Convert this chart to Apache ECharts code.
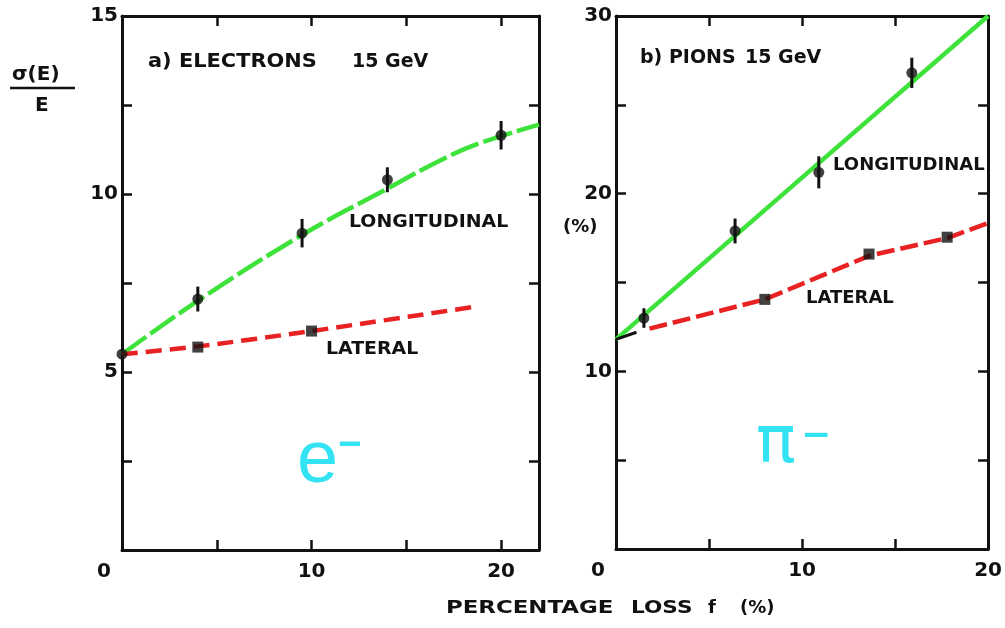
<!DOCTYPE html>
<html>
<head>
<meta charset="utf-8">
<script src="https://cdn.jsdelivr.net/npm/echarts@6/dist/echarts.min.js"></script>
<style>
  html, body { margin: 0; padding: 0; background: #fff; }
  #main { width: 1005px; height: 628px; }
</style>
</head>
<body>
<div id="main"></div>
<script>
// a) electrons
const eLongX = [0, 4, 9.5, 14, 20]
const eLongY = [5.5, 7.05, 8.9, 10.4, 11.65]
const eLongErr = [0, 0.35, 0.4, 0.35, 0.4]
const eLatX = [4, 10]
const eLatY = [5.7, 6.15]
const eLongFitX = [0, 4, 9.5, 14, 17, 19, 22]
const eLongFitY = [5.5, 7.0, 8.85, 10.15, 11.0, 11.45, 11.95]
const eLatFitX = [0, 4, 10, 18.8]
const eLatFitY = [5.5, 5.72, 6.15, 6.85]

// b) pions
const piLongX = [1.5, 6.4, 10.9, 15.9]
const piLongY = [13.0, 17.9, 21.2, 26.8]
const piLongErr = [0.55, 0.7, 0.9, 0.85]
const piLatX = [8, 13.6, 17.8]
const piLatY = [14.05, 16.6, 17.55]
const piLongFitX = [0, 10, 20]
const piLongFitY = [11.8, 20.9, 30]
const piLatFitX = [1.8, 8, 13.6, 17.8, 20]
const piLatFitY = [12.4, 14.05, 16.5, 17.5, 18.35]
const piStartX = [0, 1.1]
const piStartY = [11.8, 12.2]

// tick labels
const xTickLabels = [0, 10, 20]
const eTickLabels = [5, 10, 15]
const piTickLabels = [10, 20, 30]

const zip = (xs, ys, es) => xs.map((x, i) => es ? [x, ys[i], es[i]] : [x, ys[i]])

const FONT = 'DejaVu Sans'
const INK = '#111'

const axisLine = { show: true, onZero: false, lineStyle: { color: INK, width: 3 } }
const axisTick = { show: true, inside: true, length: 10, lineStyle: { color: INK, width: 2.5 } }

function xAxis(grid, max, pos, labels) {
    return {
        type: 'value', gridIndex: grid, min: 0, max: max, interval: 5, position: pos,
        axisLine: axisLine, axisTick: axisTick, splitLine: { show: false },
        axisLabel: {
            show: !!labels, margin: 12, color: INK, fontFamily: FONT, fontSize: 20, fontWeight: 'bold',
            formatter: v => !labels || labels.indexOf(v) < 0 ? '' : (v === 0 ? '{z|0}' : String(v)),
            rich: { z: { padding: [0, 36, 0, 0], fontFamily: FONT, fontSize: 20, fontWeight: 'bold', color: INK } }
        }
    }
}

function yAxis(grid, max, interval, pos, labels) {
    return {
        type: 'value', gridIndex: grid, min: 0, max: max, interval: interval, position: pos,
        axisLine: axisLine, axisTick: axisTick, splitLine: { show: false },
        axisLabel: {
            show: !!labels, margin: 4, color: INK, fontFamily: FONT, fontSize: 20, fontWeight: 'bold',
            formatter: v => labels && labels.indexOf(v) >= 0 ? String(v) : ''
        }
    }
}

function errorBars(xi, yi, data) {
    return {
        type: 'custom', xAxisIndex: xi, yAxisIndex: yi, data: data, z: 5,
        renderItem: (params, api) => {
            const x = api.value(0), y = api.value(1), e = api.value(2)
            const a = api.coord([x, y + e]), b = api.coord([x, y - e])
            return { type: 'line', shape: { x1: a[0], y1: a[1], x2: b[0], y2: b[1] }, style: { stroke: INK, lineWidth: 3 } }
        }
    }
}

function fitLine(xi, yi, data, color, dash, smooth) {
    return {
        type: 'line', xAxisIndex: xi, yAxisIndex: yi, data: data, smooth: smooth, showSymbol: false, z: 2,
        lineStyle: { color: color, width: 4.5, type: dash }
    }
}

function points(xi, yi, data, symbol, size) {
    return {
        type: 'scatter', xAxisIndex: xi, yAxisIndex: yi, data: data, symbol: symbol, symbolSize: size, z: 6,
        itemStyle: { color: INK }
    }
}

function text(x, y, str, size, sx) {
    return {
        type: 'text', x: x, y: y, scaleX: sx || 1,
        style: { text: str, fill: INK, font: 'bold ' + size + 'px "' + FONT + '"', verticalAlign: 'middle' }
    }
}

function cyan(x, y, str, font) {
    return {
        type: 'text', x: x, y: y,
        style: { text: str, fill: '#33e3f3', font: font, verticalAlign: 'middle' }
    }
}

const myChart = echarts.init(document.getElementById('main'))

const option = {
    backgroundColor: '#fff',
    animation: false,
    grid: [
        { left: 122, top: 16, width: 417, height: 534 },
        { left: 616, top: 16, width: 376, height: 533 }
    ],
    xAxis: [
        xAxis(0, 22, 'bottom', xTickLabels),
        xAxis(0, 22, 'top', null),
        xAxis(1, 20, 'bottom', xTickLabels),
        xAxis(1, 20, 'top', null)
    ],
    yAxis: [
        yAxis(0, 15, 2.5, 'left', eTickLabels),
        yAxis(0, 15, 2.5, 'right', null),
        yAxis(1, 30, 5, 'left', piTickLabels),
        yAxis(1, 30, 5, 'right', null)
    ],
    series: [
        fitLine(0, 0, zip(eLongFitX, eLongFitY), '#3de23a', [30, 5], 0.4),
        fitLine(0, 0, zip(eLatFitX, eLatFitY), '#e82222', [16, 8], 0.3),
        errorBars(0, 0, zip(eLongX, eLongY, eLongErr)),
        points(0, 0, zip(eLongX, eLongY), 'circle', 11),
        points(0, 0, zip(eLatX, eLatY), 'rect', 11),

        fitLine(2, 2, zip(piLongFitX, piLongFitY), '#3de23a', 'solid', false),
        fitLine(2, 2, zip(piLatFitX, piLatFitY), '#e82222', [18, 6], false),
        { type: 'line', xAxisIndex: 2, yAxisIndex: 2, data: zip(piStartX, piStartY), showSymbol: false,
          lineStyle: { color: INK, width: 3 } },
        errorBars(2, 2, zip(piLongX, piLongY, piLongErr)),
        points(2, 2, zip(piLongX, piLongY), 'circle', 11),
        points(2, 2, zip(piLatX, piLatY), 'rect', 11)
    ],
    graphic: [
        text(12, 75, 'σ(E)', 20),
        { type: 'line', shape: { x1: 10, y1: 88, x2: 75, y2: 88 }, style: { stroke: INK, lineWidth: 2.5 } },
        text(35, 106, 'E', 20),
        text(148, 62, 'a) ELECTRONS', 19, 1.1),
        text(352, 62, '15 GeV', 19),
        text(349, 222, 'LONGITUDINAL', 18, 1.05),
        text(326, 349, 'LATERAL', 18, 1.05),
        cyan(297, 462, 'e', '74px "Liberation Sans"'),
        cyan(338, 446, '−', 'bold 40px "Liberation Sans"'),

        text(640, 58, 'b) PIONS', 19),
        text(745, 58, '15 GeV', 19),
        text(833, 165, 'LONGITUDINAL', 18),
        text(806, 298, 'LATERAL', 18),
        text(563, 227, '(%)', 18),
        cyan(756, 445, 'π', '66px "DejaVu Sans"'),
        cyan(801, 437, '−', 'bold 36px "DejaVu Sans"'),

        text(446, 608, 'PERCENTAGE', 18, 1.27),
        text(631, 608, 'LOSS', 18, 1.2),
        text(708, 608, 'f', 18),
        text(740, 608, '(%)', 18)
    ]
}

myChart.setOption(option)
</script>
</body>
</html>
